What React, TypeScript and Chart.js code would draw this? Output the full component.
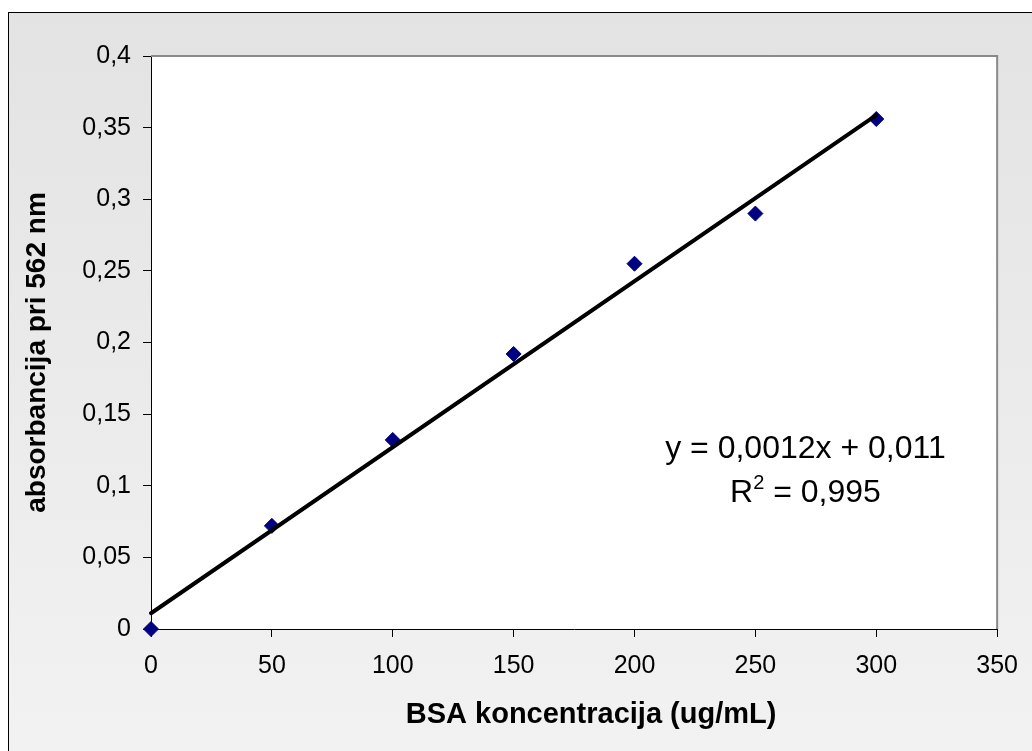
import React, { useEffect, useRef } from "react";
import { Chart, registerables } from "chart.js";

Chart.register(...registerables);

// ---- data ----
const concentrations = [0, 50, 100, 150, 200, 250, 300];
const absorbances = [0, 0.072, 0.132, 0.192, 0.255, 0.29, 0.356];
const trendX = [0, 300];
const trendY = [0.011, 0.3587];
const yTickLabels = ["0", "0,05", "0,1", "0,15", "0,2", "0,25", "0,3", "0,35", "0,4"];
const xTickLabels = ["0", "50", "100", "150", "200", "250", "300", "350"];
const equationText = "y = 0,0012x + 0,011";
const r2Value = "0,995";
const xTitle = "BSA koncentracija (ug/mL)";
const yTitle = "absorbancija pri 562 nm";

const FONT = "'Liberation Sans', Arial, Helvetica, sans-serif";

export default function App() {
  const ref = useRef<HTMLCanvasElement | null>(null);

  useEffect(() => {
    if (!ref.current) return;
    const plotBg = {
      id: "plotBg",
      beforeDraw(chart: any) {
        const { ctx, chartArea: a } = chart;
        ctx.save();
        ctx.fillStyle = "#ffffff";
        ctx.fillRect(a.left, a.top, a.right - a.left, a.bottom - a.top);
        ctx.restore();
      },
      beforeDatasetsDraw(chart: any) {
        const { ctx, chartArea: a } = chart;
        ctx.save();
        ctx.strokeStyle = "#8a8a8a";
        ctx.lineWidth = 2;
        ctx.beginPath();
        ctx.moveTo(a.left, a.top);
        ctx.lineTo(a.right, a.top);
        ctx.lineTo(a.right, a.bottom);
        ctx.stroke();
        ctx.restore();
      },
      afterDraw(chart: any) {
        const { ctx, chartArea: a, scales } = chart;
        ctx.save();
        ctx.fillStyle = "#000";
        // axis titles
        ctx.font = `bold 29px ${FONT}`;
        ctx.textAlign = "center";
        ctx.textBaseline = "middle";
        ctx.fillText(xTitle, (a.left + a.right) / 2 + 17, a.bottom + 86);
        ctx.save();
        ctx.font = `bold 28px ${FONT}`;
        ctx.translate(a.left - 114, (a.top + a.bottom) / 2 + 10);
        ctx.rotate(-Math.PI / 2);
        ctx.fillText(yTitle, 0, 0);
        ctx.restore();

        // equation annotation
        const ex = scales.x.getPixelForValue(270.7);
        const ey = scales.y.getPixelForValue(0.1194);
        ctx.textBaseline = "alphabetic";
        ctx.font = `32px ${FONT}`;
        ctx.textAlign = "center";
        ctx.fillText(equationText, ex, ey);
        // R^2 line
        const y2 = ey + 44;
        ctx.textAlign = "left";
        const wR = ctx.measureText("R").width;
        const rest = " = " + r2Value;
        const wRest = ctx.measureText(rest).width;
        ctx.font = `20px ${FONT}`;
        const w2 = ctx.measureText("2").width;
        const total = wR + w2 + wRest;
        let sx = ex - total / 2;
        ctx.font = `32px ${FONT}`;
        ctx.fillText("R", sx, y2);
        sx += wR;
        ctx.font = `20px ${FONT}`;
        ctx.fillText("2", sx, y2 - 13);
        sx += w2;
        ctx.font = `32px ${FONT}`;
        ctx.fillText(rest, sx, y2);
        ctx.restore();
      },
    };

    const chart = new Chart(ref.current, {
      type: "scatter",
      data: {
        datasets: [
          {
            label: "trend",
            data: trendX.map((x, i) => ({ x, y: trendY[i] })),
            showLine: true,
            borderColor: "#000000",
            borderWidth: 4,
            borderCapStyle: "round",
            pointRadius: 0,
            order: 0,
            clip: false,
          },
          {
            label: "BSA",
            data: concentrations.map((x, i) => ({ x, y: absorbances[i] })),
            pointStyle: "rectRot",
            pointRadius: 7.5,
            backgroundColor: "#000080",
            borderColor: "#000080",
            borderWidth: 1,
            showLine: false,
            order: 1,
            clip: false,
          },
        ],
      },
      options: {
        responsive: false,
        animation: false,
        events: [],
        layout: { padding: { left: 0, top: 43, right: 34, bottom: 0 } },
        plugins: {
          legend: { display: false },
          tooltip: { enabled: false },
          title: { display: false },
        },
        scales: {
          x: {
            type: "linear",
            min: 0,
            max: 350,
            ticks: {
              stepSize: 50,
              color: "#000",
              font: { family: FONT, size: 25 },
              padding: 14,
              maxRotation: 0,
              callback: (_v: any, i: number) => xTickLabels[i],
            },
            grid: {
              display: true,
              drawOnChartArea: false,
              drawTicks: true,
              tickLength: 8,
              color: "#000",
            },
            border: { display: true, color: "#000", width: 1 },
            afterFit: (s: any) => {
              s.height = 122;
            },
          },
          y: {
            type: "linear",
            min: 0,
            max: 0.4,
            ticks: {
              stepSize: 0.05,
              color: "#000",
              font: { family: FONT, size: 25 },
              padding: 12,
              callback: (_v: any, i: number) => yTickLabels[i],
            },
            grid: {
              display: true,
              drawOnChartArea: false,
              drawTicks: true,
              tickLength: 8,
              color: "#000",
            },
            border: { display: true, color: "#000", width: 1 },
            afterFit: (s: any) => {
              s.width = 142;
            },
          },
        },
      },
      plugins: [plotBg],
    });
    return () => chart.destroy();
  }, []);

  return (
    <div
      style={{
        position: "fixed",
        left: 8,
        top: 12,
        width: 1100,
        height: 800,
        borderLeft: "1px solid #000",
        borderTop: "1px solid #000",
        background: "linear-gradient(to bottom, #e3e3e3 0px, #f2f2f2 739px)",
        overflow: "hidden",
      }}
    >
      <canvas ref={ref} width={1023} height={738} style={{ display: "block" }} />
    </div>
  );
}
